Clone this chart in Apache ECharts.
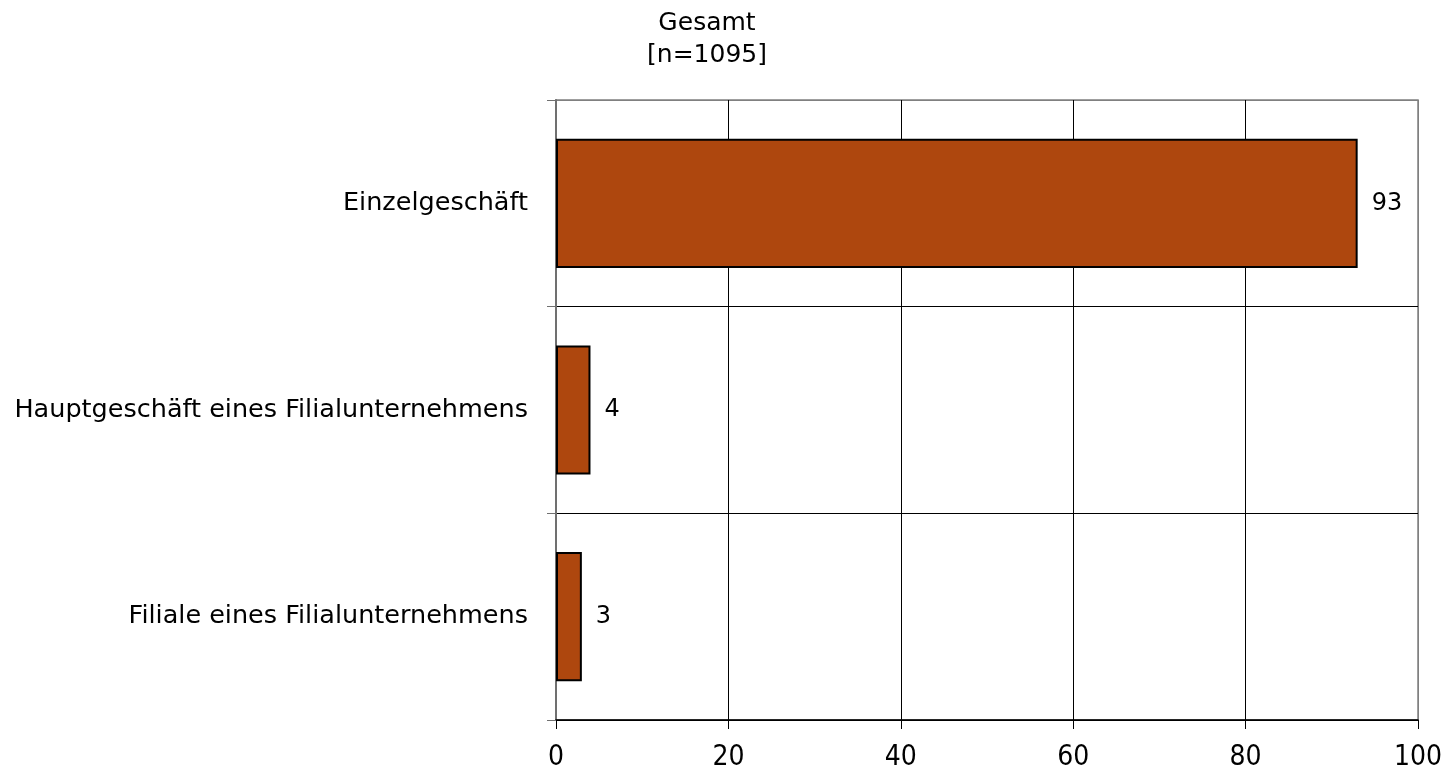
<!DOCTYPE html>
<html><head><meta charset="utf-8">
<script src="https://cdn.jsdelivr.net/npm/echarts@6/dist/echarts.min.js"></script>
<style>html,body{margin:0;padding:0;background:#fff}#c{width:1450px;height:772px}</style>
</head><body><div id="c"></div>
<script>
const categories = ['Einzelgeschäft', 'Hauptgeschäft eines Filialunternehmens', 'Filiale eines Filialunternehmens'];
const values = [93, 4, 3];
const xTicks = [0, 20, 40, 60, 80, 100];
const titleText = 'Gesamt\n[n=1095]';
const FONT = '"DejaVu Sans", sans-serif';
const FONT_C = '"DejaVu Sans Condensed", "DejaVu Sans", sans-serif';

const chart = echarts.init(document.getElementById('c'), null, {renderer: 'canvas'});
chart.setOption({
  animation: false,
  backgroundColor: '#fff',
  title: {
    text: titleText, left: 702, top: 2, textAlign: 'center',
    textStyle: {fontFamily: FONT, fontSize: 25, fontWeight: 'normal', color: '#000', lineHeight: 32}
  },
  grid: {left: 556, right: 32, top: 100, bottom: 52, show: true, borderColor: '#808080', borderWidth: 1.5},
  xAxis: {
    type: 'value', min: xTicks[0], max: xTicks[xTicks.length - 1], interval: 20,
    axisLine: {show: true, lineStyle: {color: '#000', width: 1.5}},
    axisTick: {show: true, length: 9, lineStyle: {color: '#000', width: 1}},
    axisLabel: {fontFamily: FONT_C, fontSize: 28, color: '#000', margin: 24},
    splitLine: {show: true, lineStyle: {color: ['#000', '#000', '#000', '#000', '#000', '#808080'], width: 1}}
  },
  yAxis: {
    type: 'category', data: categories, inverse: true,
    axisLine: {show: true, lineStyle: {color: '#707070', width: 2}},
    axisTick: {show: true, length: 9, inside: false, lineStyle: {color: '#707070', width: 1}},
    axisLabel: {fontFamily: FONT, fontSize: 25.5, color: '#000', margin: 28},
    splitLine: {show: true, lineStyle: {color: ['#808080', '#000', '#000', '#000'], width: 1}}
  },
  series: [{
    type: 'bar', data: values, barWidth: '62.5%',
    itemStyle: {color: '#AE470E', borderColor: '#000', borderWidth: 2},
    label: {show: true, position: 'right', distance: 14, fontFamily: FONT, fontSize: 24, color: '#000'}
  }]
});
</script></body></html>
